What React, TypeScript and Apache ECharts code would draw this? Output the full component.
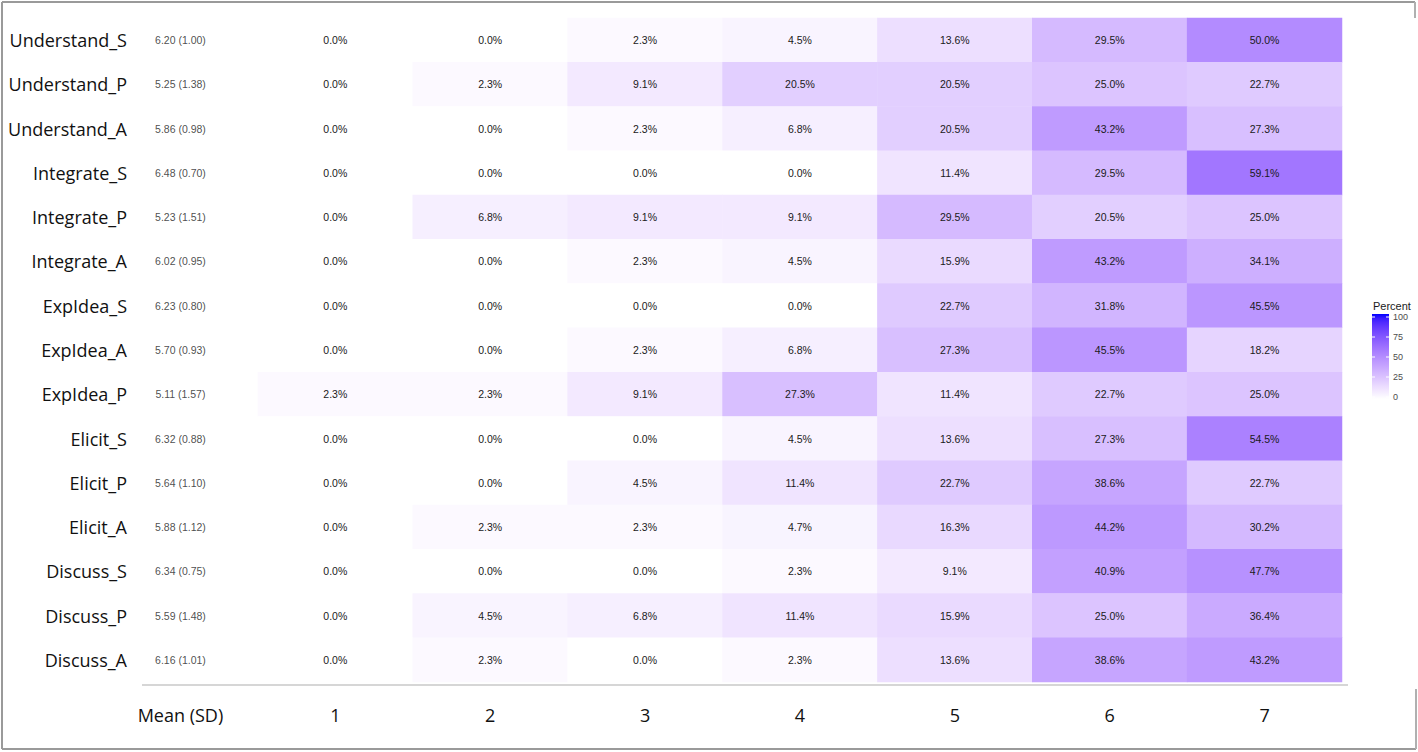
import React, { useEffect, useRef } from "react";
import * as echarts from "echarts";

const rows = [
  "Understand_S", "Understand_P", "Understand_A",
  "Integrate_S", "Integrate_P", "Integrate_A",
  "ExpIdea_S", "ExpIdea_A", "ExpIdea_P",
  "Elicit_S", "Elicit_P", "Elicit_A",
  "Discuss_S", "Discuss_P", "Discuss_A",
];

const columns = ["Mean (SD)", "1", "2", "3", "4", "5", "6", "7"];

const meanSD = [
  "6.20 (1.00)", "5.25 (1.38)", "5.86 (0.98)",
  "6.48 (0.70)", "5.23 (1.51)", "6.02 (0.95)",
  "6.23 (0.80)", "5.70 (0.93)", "5.11 (1.57)",
  "6.32 (0.88)", "5.64 (1.10)", "5.88 (1.12)",
  "6.34 (0.75)", "5.59 (1.48)", "6.16 (1.01)",
];

// percent of responses at levels 1..7, one row per item
const percents = [
  [0.0, 0.0, 2.3, 4.5, 13.6, 29.5, 50.0],
  [0.0, 2.3, 9.1, 20.5, 20.5, 25.0, 22.7],
  [0.0, 0.0, 2.3, 6.8, 20.5, 43.2, 27.3],
  [0.0, 0.0, 0.0, 0.0, 11.4, 29.5, 59.1],
  [0.0, 6.8, 9.1, 9.1, 29.5, 20.5, 25.0],
  [0.0, 0.0, 2.3, 4.5, 15.9, 43.2, 34.1],
  [0.0, 0.0, 0.0, 0.0, 22.7, 31.8, 45.5],
  [0.0, 0.0, 2.3, 6.8, 27.3, 45.5, 18.2],
  [2.3, 2.3, 9.1, 27.3, 11.4, 22.7, 25.0],
  [0.0, 0.0, 0.0, 4.5, 13.6, 27.3, 54.5],
  [0.0, 0.0, 4.5, 11.4, 22.7, 38.6, 22.7],
  [0.0, 2.3, 2.3, 4.7, 16.3, 44.2, 30.2],
  [0.0, 0.0, 0.0, 2.3, 9.1, 40.9, 47.7],
  [0.0, 4.5, 6.8, 11.4, 15.9, 25.0, 36.4],
  [0.0, 2.3, 0.0, 2.3, 13.6, 38.6, 43.2],
];

const legendTicks = [0, 25, 50, 75, 100];

// Lab interpolation white -> blue (like ggplot's gradient)
function labToHex(L: number, a: number, b: number): string {
  const fy = (L + 16) / 116;
  const fx = fy + a / 500;
  const fz = fy - b / 200;
  const f = (t: number) => (t * t * t > 0.008856 ? t * t * t : (t - 16 / 116) / 7.787);
  const X = 0.95047 * f(fx);
  const Y = 1.0 * f(fy);
  const Z = 1.08883 * f(fz);
  const lin = [
    3.2406 * X - 1.5372 * Y - 0.4986 * Z,
    -0.9689 * X + 1.8758 * Y + 0.0415 * Z,
    0.0557 * X - 0.204 * Y + 1.057 * Z,
  ];
  return (
    "#" +
    lin
      .map((c) => {
        const v = c <= 0.0031308 ? 12.92 * c : 1.055 * Math.pow(Math.max(c, 0), 1 / 2.4) - 0.055;
        const n = Math.round(Math.min(1, Math.max(0, v)) * 255);
        return n.toString(16).padStart(2, "0");
      })
      .join("")
  );
}

const LOW = [100, 0, 0];
const HIGH = [32.3, 79.19, -107.86];
const NSTOPS = 21;
const palette: string[] = [];
for (let i = 0; i < NSTOPS; i++) {
  const t = i / (NSTOPS - 1);
  palette.push(
    labToHex(
      LOW[0] + (HIGH[0] - LOW[0]) * t,
      LOW[1] + (HIGH[1] - LOW[1]) * t,
      LOW[2] + (HIGH[2] - LOW[2]) * t
    )
  );
}

export default function App() {
  const ref = useRef<HTMLDivElement>(null);

  useEffect(() => {
    document.body.style.margin = "0";
    if (!ref.current) return;
    const chart = echarts.init(ref.current, undefined, { renderer: "svg" });

    const heatData: [number, number, number][] = [];
    percents.forEach((row, r) => {
      row.forEach((v, c) => heatData.push([c + 1, r, v]));
    });
    const meanData = meanSD.map((_, r) => [0, r]);

    const barX = 1372;
    const barTop = 314;
    const barH = 85;
    const barW = 17;
    const tickY = (v: number) => 397 - v * 0.8;

    const graphic: any[] = [
      // frame
      { type: "line", shape: { x1: 2, y1: 2, x2: 1415, y2: 2 }, style: { stroke: "#9a9a9a", lineWidth: 2 } },
      { type: "line", shape: { x1: 2, y1: 2, x2: 2, y2: 749 }, style: { stroke: "#9a9a9a", lineWidth: 2 } },
      { type: "line", shape: { x1: 2, y1: 749, x2: 1416, y2: 749 }, style: { stroke: "#9a9a9a", lineWidth: 2 } },
      { type: "line", shape: { x1: 1415, y1: 2, x2: 1415, y2: 18 }, style: { stroke: "#b0b0b0", lineWidth: 2 } },
      { type: "line", shape: { x1: 1416, y1: 689, x2: 1416, y2: 749 }, style: { stroke: "#b0b0b0", lineWidth: 2 } },
      // x axis line
      { type: "line", shape: { x1: 142, y1: 685, x2: 1348, y2: 685 }, style: { stroke: "#c8c8c8", lineWidth: 1.5 } },
      // legend
      {
        type: "text",
        x: 1373,
        y: 306,
        style: { text: "Percent", fontSize: 11, fontFamily: "Liberation Sans, Arial", fill: "#1a1a1a", verticalAlign: "middle" },
      },
      {
        type: "rect",
        shape: { x: barX, y: barTop, width: barW, height: barH },
        style: {
          fill: new echarts.graphic.LinearGradient(
            0, 1, 0, 0,
            palette.map((c, i) => ({ offset: i / (palette.length - 1), color: c }))
          ),
        },
      },
    ];
    legendTicks.forEach((v) => {
      const y = tickY(v);
      graphic.push({
        type: "text",
        x: 1393,
        y,
        style: { text: String(v), fontSize: 9, fontFamily: "Liberation Sans, Arial", fill: "#4d4d4d", verticalAlign: "middle" },
      });
      graphic.push({ type: "line", shape: { x1: barX, y1: y, x2: barX + 3, y2: y }, style: { stroke: "#ffffff", lineWidth: 1 } });
      graphic.push({ type: "line", shape: { x1: barX + barW - 3, y1: y, x2: barX + barW, y2: y }, style: { stroke: "#ffffff", lineWidth: 1 } });
    });

    chart.setOption({
      animation: false,
      backgroundColor: "#ffffff",
      grid: { left: 103, top: 18, width: 1239, height: 664, containLabel: false },
      xAxis: {
        type: "category",
        data: columns,
        axisLine: { show: false },
        axisTick: { show: false },
        splitLine: { show: false },
        axisLabel: { fontSize: 18, color: "#111111", margin: 24, fontFamily: "Open Sans" },
      },
      yAxis: {
        type: "category",
        data: rows,
        inverse: true,
        axisLine: { show: false },
        axisTick: { show: false },
        splitLine: { show: false },
        axisLabel: { fontSize: 18, color: "#111111", margin: -24, fontFamily: "Open Sans" },
      },
      visualMap: {
        type: "continuous",
        show: false,
        min: 0,
        max: 100,
        seriesIndex: 0,
        dimension: 2,
        inRange: { color: palette },
      },
      series: [
        {
          type: "heatmap",
          data: heatData,
          label: {
            show: true,
            fontSize: 10.5,
            fontFamily: "Liberation Sans, Arial",
            color: "#1a1a1a",
            formatter: (p: any) => p.value[2].toFixed(1) + "%",
          },
          emphasis: { disabled: true },
          itemStyle: { borderWidth: 0 },
        },
        {
          type: "scatter",
          data: meanData,
          symbolSize: 0,
          silent: true,
          label: {
            show: true,
            position: "inside",
            fontSize: 10.5,
            fontFamily: "Liberation Sans, Arial",
            color: "#1a1a1a",
            formatter: (p: any) => meanSD[p.dataIndex],
          },
        },
      ],
      graphic,
    });

    return () => chart.dispose();
  }, []);

  return <div ref={ref} style={{ width: 1418, height: 752 }} />;
}
